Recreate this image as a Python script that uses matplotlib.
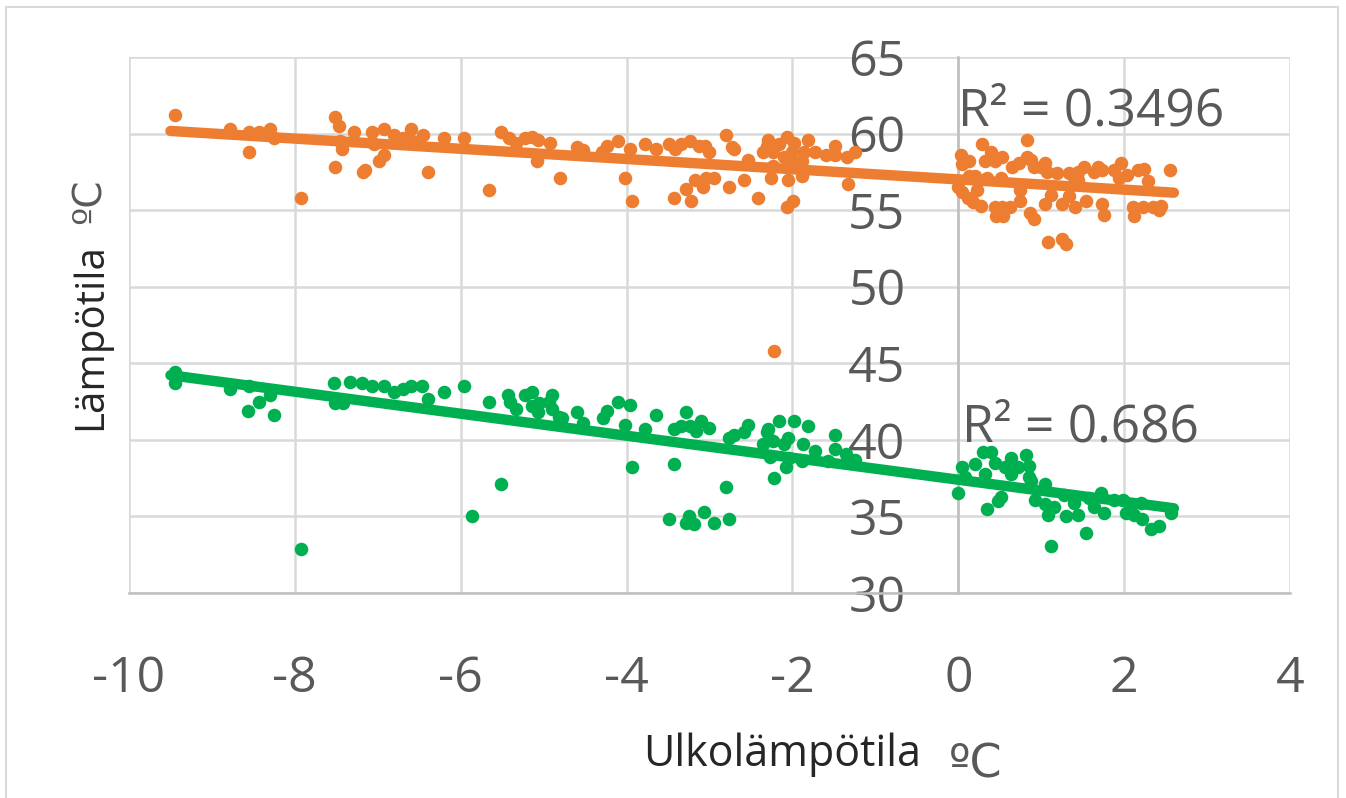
import numpy as np
import matplotlib
matplotlib.use("Agg")
import matplotlib.pyplot as plt
from matplotlib.patches import Rectangle

# ---------------- data ----------------
orange_x = [-9.45, -8.78, -8.55, -8.55, -8.43, -8.30, -8.25, -7.93, -7.51, -7.47, -7.51, -7.43, -7.46,
            -7.29, -7.18, -7.16, -7.07, -7.04, -6.98, -6.93, -6.93, -6.80, -6.69, -6.60, -6.59, -6.45,
            -6.39, -6.20, -5.96, -5.66, -5.52, -5.42, -5.33, -5.23, -5.14, -5.07, -5.08, -4.92, -4.80,
            -4.60, -4.52, -4.30, -4.23, -4.10, -3.96, -4.02, -3.94, -3.78, -3.65, -3.49, -3.43, -3.42,
            -3.34, -3.28, -3.24, -3.22, -3.18, -3.13, -3.08, -3.06, -3.04, -3.01, -2.95, -2.80, -2.73,
            -2.70, -2.77, -2.58, -2.53, -2.42, -2.35, -2.29, -2.31, -2.26, -2.23, -2.23, -2.16, -2.07,
            -2.10, -2.05, -2.02, -2.01, -1.98, -2.07, -1.99, -1.89, -1.89, -1.86, -1.81, -1.73, -1.60,
            -1.49, -1.49, -1.33, -1.34, -1.25, -2.22,
            0.03, 0.05, 0.13, 0.00, 0.04, 0.13, 0.20, 0.22, 0.12, 0.18, 0.27, 0.29, 0.32, 0.35, 0.40,
            0.44, 0.44, 0.45, 0.53, 0.53, 0.54, 0.62, 0.51, 0.65, 0.73, 0.74, 0.74, 0.83, 0.83, 0.88,
            0.91, 0.86, 0.91, 1.00, 1.04, 1.07, 1.04, 1.12, 1.08, 1.19, 1.25, 1.25, 1.30, 1.34, 1.34,
            1.40, 1.41, 1.44, 1.44, 1.52, 1.54, 1.64, 1.68, 1.73, 1.73, 1.76, 1.88, 1.94, 1.96, 2.04,
            2.11, 2.12, 2.17, 2.23, 2.24, 2.29, 2.35, 2.42, 2.45, 2.55]
orange_y = [61.2, 60.3, 60.1, 58.8, 60.1, 60.3, 59.7, 55.8, 61.1, 60.5, 57.8, 59.0, 59.5,
            60.1, 57.5, 57.6, 60.1, 59.3, 58.2, 58.6, 60.3, 59.9, 59.7, 60.3, 59.5, 59.9,
            57.5, 59.7, 59.7, 56.3, 60.1, 59.7, 59.4, 59.7, 59.8, 59.6, 58.2, 59.4, 57.1,
            59.1, 58.9, 58.8, 59.2, 59.5, 59.0, 57.1, 55.6, 59.3, 59.0, 59.3, 55.8, 59.0,
            59.3, 56.4, 59.5, 55.6, 57.0, 59.2, 56.5, 59.2, 57.1, 58.8, 57.1, 59.9, 59.1,
            59.0, 56.5, 57.0, 58.3, 55.8, 58.8, 59.6, 59.2, 57.1, 58.8, 57.9, 59.3, 59.8,
            58.5, 57.0, 58.2, 58.8, 59.4, 55.2, 55.6, 57.2, 58.2, 58.8, 59.6, 58.8, 58.6,
            59.2, 58.6, 56.7, 58.5, 58.8, 45.8,
            58.6, 58.0, 58.2, 56.5, 56.2, 57.2, 57.2, 56.3, 55.8, 55.5, 55.3, 59.3, 58.2, 57.1, 58.8,
            58.2, 55.2, 54.6, 58.5, 55.2, 54.6, 55.2, 57.1, 57.8, 58.1, 56.3, 55.6, 59.6, 58.5, 58.3,
            57.8, 54.8, 54.4, 57.8, 58.1, 57.5, 55.4, 56.0, 52.9, 57.4, 55.4, 53.1, 52.8, 57.4, 55.9,
            56.8, 55.2, 57.0, 57.5, 57.8, 55.6, 57.5, 57.8, 57.6, 55.4, 54.7, 57.6, 57.1, 58.1, 57.3,
            55.2, 54.6, 57.6, 55.2, 57.7, 56.9, 55.2, 55.0, 55.3, 57.6]

green_x = [-9.45, -9.45, -8.78, -8.55, -8.57, -8.43, -8.30, -8.25, -7.93, -7.53, -7.52, -7.42, -7.33,
           -7.19, -7.07, -6.93, -6.80, -6.69, -6.60, -6.47, -6.39, -6.20, -5.96, -5.86, -5.66, -5.52,
           -5.43, -5.41, -5.33, -5.23, -5.14, -5.14, -5.07, -5.06, -4.90, -4.93, -4.90, -4.82,
           -4.78, -4.60, -4.52, -4.29, -4.23, -4.10, -3.96, -4.02, -3.94, -3.78, -3.65, -3.49, -3.43,
           -3.43, -3.34, -3.28, -3.24, -3.25, -3.28, -3.19, -3.16, -3.10, -3.07, -3.01, -2.95, -2.80,
           -2.77, -2.76, -2.70, -2.58, -2.53, -2.35, -2.31, -2.29, -2.23, -2.27, -2.22, -2.16, -2.10,
           -2.05, -2.08, -2.04, -1.98, -1.87, -1.81, -1.73, -1.89, -1.49, -1.49, -1.35, -1.25, -1.57,
           0.00, 0.04, 0.08, 0.20, 0.30, 0.40, 0.32, 0.35, 0.44, 0.48, 0.52, 0.56, 0.64, 0.64, 0.72,
           0.82, 0.85, 0.85, 0.88, 0.92, 1.04, 1.04, 1.08, 1.12, 1.16, 1.28, 1.30, 1.40, 1.44, 1.54,
           1.58, 1.72, 1.76, 1.88, 1.99, 2.02, 2.08, 2.20, 2.22, 2.32, 2.42, 2.57, 2.12, 1.64]
green_y = [44.4, 43.7, 43.3, 43.5, 41.9, 42.5, 42.9, 41.6, 32.9, 43.7, 42.4, 42.4, 43.8,
           43.7, 43.5, 43.5, 43.1, 43.3, 43.5, 43.5, 42.7, 43.1, 43.5, 35.0, 42.5, 37.1,
           42.9, 42.5, 42.0, 42.9, 43.1, 42.2, 41.8, 42.4, 42.9, 42.5, 42.0, 41.5,
           41.4, 41.8, 41.1, 41.4, 41.9, 42.5, 42.3, 41.0, 38.2, 40.7, 41.6, 34.8, 40.7,
           38.4, 40.9, 41.8, 40.9, 35.0, 34.6, 34.5, 40.6, 41.2, 35.3, 40.8, 34.6, 36.9,
           34.8, 40.1, 40.3, 40.5, 41.0, 39.7, 40.5, 40.7, 39.9, 38.9, 37.5, 41.2, 39.7,
           40.1, 38.2, 38.8, 41.2, 39.7, 40.9, 39.3, 38.6, 40.3, 39.4, 39.1, 38.7, 38.6,
           36.5, 38.2, 37.6, 38.4, 39.2, 39.2, 37.8, 35.5, 38.5, 36.0, 36.3, 38.2, 38.8, 37.8, 38.2,
           39.0, 38.3, 37.6, 37.3, 36.1, 37.1, 35.8, 35.1, 33.1, 35.6, 36.4, 35.0, 35.9, 35.1, 33.9,
           36.2, 36.5, 35.2, 36.1, 36.1, 35.2, 35.7, 35.9, 34.8, 34.2, 34.4, 35.2, 35.1, 35.6]

r2_labels = ["R² = 0.3496", "R² = 0.686"]
x_ticks = [-10, -8, -6, -4, -2, 0, 2, 4]
y_ticks = [30, 35, 40, 45, 50, 55, 60, 65]

# ---------------- styling ----------------
ORANGE = "#ED7D31"
GREEN = "#00B050"
TXT = "#595959"
GRID = "#d9d9d9"
FONT = ["Open Sans", "DejaVu Sans"]
DEG_FONT = ["DejaVu Sans"]
plt.rcParams['font.family'] = FONT

fig = plt.figure(figsize=(13.46, 7.98), dpi=100)
fig.patch.set_facecolor("white")
fig.patches.append(Rectangle((6 / 1346, -0.1), 1332 / 1346, 1.1 - 7 / 798,
                             transform=fig.transFigure, fill=False,
                             edgecolor="#d9d9d9", linewidth=1.5))

ax = fig.add_axes([129 / 1346, 1 - 593 / 798, (1290 - 129) / 1346, (593 - 57) / 798])
ax.set_xlim(-10, 4)
ax.set_ylim(30, 65)
ax.set_xticks(x_ticks)
ax.set_yticks(y_ticks)
ax.grid(True, color=GRID, linewidth=1.8)
ax.set_axisbelow(True)

for s in ["top", "right"]:
    ax.spines[s].set_visible(False)
ax.spines["left"].set_position(("data", 0))
ax.spines["left"].set_color("#bfbfbf")
ax.spines["left"].set_linewidth(1.8)
ax.spines["bottom"].set_color("#bfbfbf")
ax.spines["bottom"].set_linewidth(1.8)
ax.tick_params(axis="both", length=0, labelsize=36, colors=TXT)
ax.tick_params(axis="y", pad=38)
ax.tick_params(axis="x", pad=44)
ax.set_xticklabels([str(v) for v in x_ticks])

ax.scatter(orange_x, orange_y, s=95, color=ORANGE, zorder=3, linewidths=0)
ax.scatter(green_x, green_y, s=95, color=GREEN, zorder=3, linewidths=0)

xx = np.array([-9.5, 2.6])
for xs, ys, c in [(orange_x, orange_y, ORANGE), (green_x, green_y, GREEN)]:
    k, b = np.polyfit(xs, ys, 1)
    ax.plot(xx, k * xx + b, color=c, linewidth=7.5, solid_capstyle="round", zorder=4)

ax.text(0.0, 61.4, r2_labels[0], fontsize=37, color=TXT, ha="left", va="center", zorder=5)
ax.text(0.05, 40.8, r2_labels[1], fontsize=37, color=TXT, ha="left", va="center", zorder=5)

# axis titles
t1 = fig.text(643 / 1346, 1 - 766 / 798, "Ulkolämpötila", fontsize=31, color="#262626",
              ha="left", va="baseline")
ax.annotate("ºC", xy=(1, 0), xycoords=t1, xytext=(20, 0), textcoords="offset points",
            fontsize=33, color=TXT, ha="left", va="baseline", annotation_clip=False,
            family=DEG_FONT)

t2 = fig.text(101 / 1346, 1 - 430 / 798, "Lämpötila", fontsize=29, color="#262626",
              ha="left", va="baseline", rotation=90, rotation_mode="anchor")
ax.annotate("ºC", xy=(0, 1), xycoords=t2, xytext=(0, 14), textcoords="offset points",
            fontsize=28, color=TXT, ha="left", va="bottom", rotation=90,
            annotation_clip=False, family=DEG_FONT)

fig.savefig("out.png", dpi=100, facecolor="white")
